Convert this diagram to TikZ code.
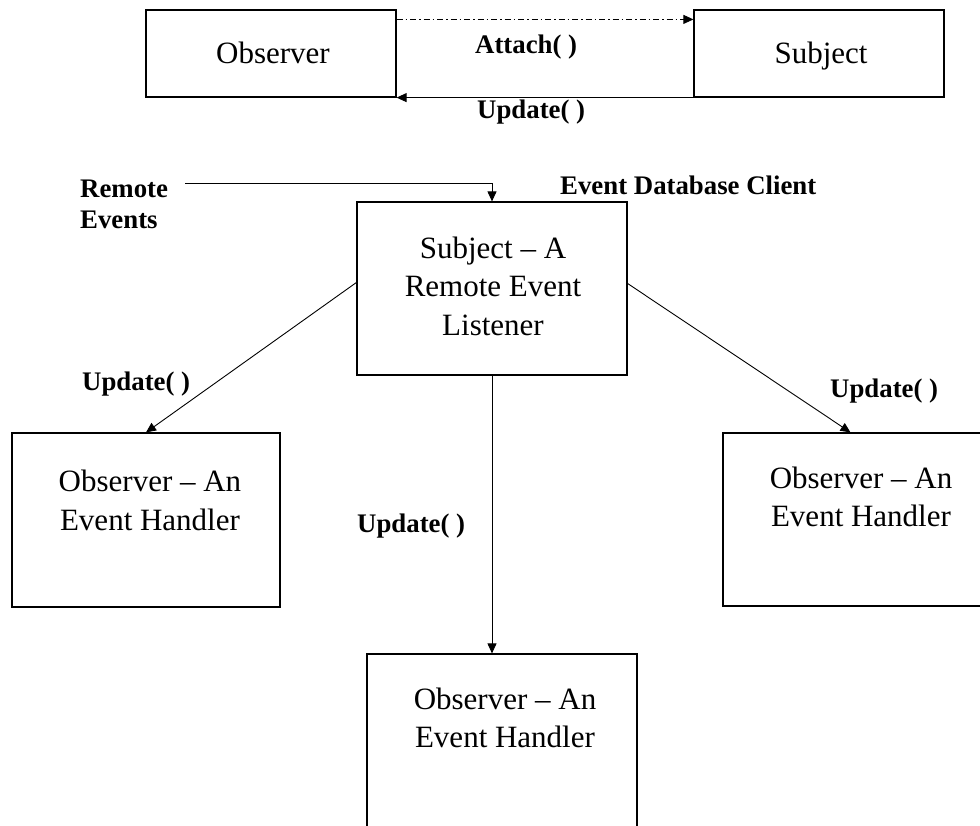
\documentclass[tikz,border=0pt]{standalone}
\usepackage{fontspec}
\setmainfont{Liberation Serif}
\usetikzlibrary{arrows.meta}
\begin{document}
\begin{tikzpicture}[x=1pt,y=-1pt,
  box/.style={draw,line width=1.2pt,inner sep=0pt,fill=none},
  boxtext/.style={inner sep=0pt,align=center,font=\fontsize{31}{38.5}\selectfont},
  lbl/.style={inner sep=0pt,anchor=base west,font=\fontsize{26.8}{33}\selectfont\bfseries},
  conn/.style={line width=0.9pt,-{Triangle[length=10pt,width=9pt]}},
  dashdot/.style={dash pattern=on 6pt off 3pt on 1.5pt off 3pt}]
\useasboundingbox (0,0) rectangle (980,825);
\clip (0,0) rectangle (980,825);
% boxes
\node[box,minimum width=250pt,minimum height=87pt] (obsTop) at (271,53.5) {};
\node[box,minimum width=250pt,minimum height=87pt] (subTop) at (819,53.5) {};
\node[box,minimum width=270pt,minimum height=173pt] (subMain) at (492,288.5) {};
\node[box,minimum width=268pt,minimum height=174pt] (obsL) at (146,520) {};
\node[box,minimum width=277pt,minimum height=173pt] (obsR) at (861.5,519.5) {};
\node[box,minimum width=270pt,minimum height=200pt] (obsB) at (502,754) {};
% box texts
\node[boxtext,anchor=base] (tObsTop) at (273,63) {Observer};
\node[boxtext,anchor=base] (tSubTop) at (821,63) {Subject};
\node[boxtext] (tSubMain) at (493,286) {Subject -- A\\Remote Event\\Listener};
\node[boxtext] (tObsL) at (150,500.5) {Observer -- An\\Event Handler};
\node[boxtext] (tObsR) at (861,497) {Observer -- An\\Event Handler};
\node[boxtext] (tObsB) at (505,718) {Observer -- An\\Event Handler};
% labels
\node[lbl] (lAttach) at (475,53) {Attach( )};
\node[lbl] (lUpdTop) at (477,118) {Update( )};
\node[lbl] (lRemote) at (80,197) {Remote};
\node[lbl] (lEvents) at (80,228) {Events};
\node[lbl] (lEDC) at (560,194) {Event Database Client};
\node[lbl] (lUpdL) at (82,390) {Update( )};
\node[lbl] (lUpdR) at (830,397) {Update( )};
\node[lbl] (lUpdM) at (357,532) {Update( )};
% connectors
\draw[conn,dashdot] ([yshift=-10pt]obsTop.north east) -- ([yshift=-10pt]subTop.north west);
\draw[conn] (subTop.south west) -- (obsTop.south east);
\coordinate (remStart) at (185,183);
\draw[conn] (remStart) -| (subMain.north);
\draw[conn] ([yshift=6pt]subMain.west) -- (obsL.north);
\draw[conn] ([yshift=5pt]subMain.east) -- ([xshift=-11pt]obsR.north);
\draw[conn] (subMain.south) -- (subMain.south |- obsB.north);
\end{tikzpicture}
\end{document}
